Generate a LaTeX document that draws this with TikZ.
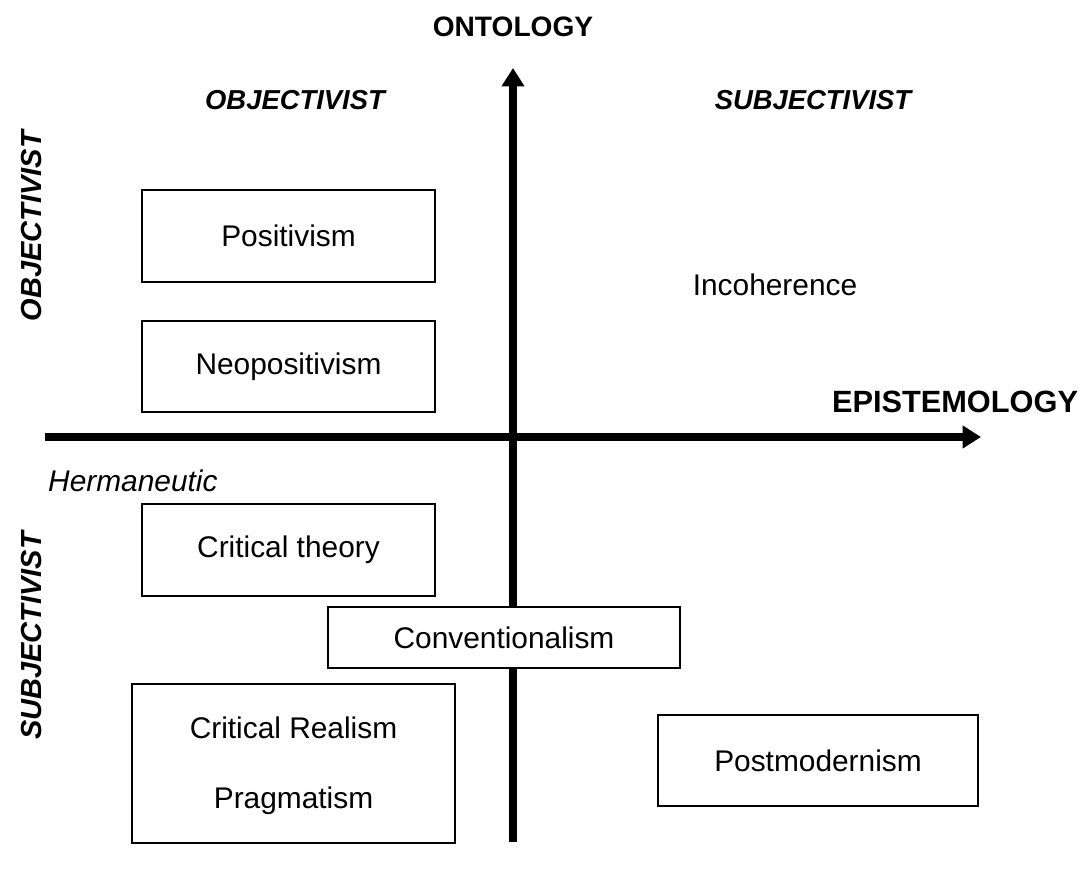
\documentclass[tikz,border=0pt]{standalone}
\usepackage{fontspec}
\setmainfont{Liberation Sans}
\usetikzlibrary{arrows.meta}
\begin{document}
\begin{tikzpicture}[x=0.02cm,y=-0.02cm,
  box/.style={draw,line width=1.1pt,fill=white,inner sep=0pt,font=\fontsize{17}{20}\selectfont},
  lbl/.style={font=\fontsize{17}{20}\selectfont},
  head/.style={font=\fontsize{16}{19}\selectfont\bfseries},
  quad/.style={font=\fontsize{15.6}{19}\selectfont\bfseries\itshape},
  axis/.style={line width=4pt,-{Triangle[length=10.5pt,width=12.5pt]}}]
\useasboundingbox (0,0) rectangle (1085,869);
% axes
\coordinate (vbot) at (513,842);
\coordinate (vtop) at (513,68);
\coordinate (hleft) at (45,437);
\coordinate (hright) at (981,437);
\draw[axis] (vbot) -- (vtop);
\draw[axis] (hleft) -- (hright);
% axis titles
\node[head] (ont) at (513,27) {ONTOLOGY};
\node[head,font=\fontsize{17.5}{20}\selectfont\bfseries] (epi) at (955,402) {EPISTEMOLOGY};
\node[quad] (objtop) at (295,100) {OBJECTIVIST};
\node[quad] (subtop) at (813,100) {SUBJECTIVIST};
\node[quad,font=\fontsize{16.5}{19}\selectfont\bfseries\itshape,rotate=90] (objleft) at (32,226) {OBJECTIVIST};
\node[quad,font=\fontsize{16.5}{19}\selectfont\bfseries\itshape,rotate=90] (subleft) at (32,636) {SUBJECTIVIST};
\node[lbl,font=\fontsize{17}{20}\selectfont\itshape,anchor=west] (herm) at (42,481) {Hermaneutic};
% paradigm boxes
\node[box,minimum width=293*0.02cm,minimum height=92*0.02cm] (pos) at (288.5,236) {Positivism};
\node[box,minimum width=293*0.02cm,minimum height=91*0.02cm] (neo) at (288.5,366.5) {Neopositivism};
\node[lbl] (inc) at (775,285) {Incoherence};
\node[box,minimum width=293*0.02cm,minimum height=92*0.02cm] (crit) at (288.5,550) {Critical theory};
\node[box,minimum width=352*0.02cm,minimum height=61*0.02cm] (conv) at (504,637.5) {Conventionalism};
\node[box,minimum width=323*0.02cm,minimum height=159*0.02cm] (real) at (293.5,763.5) {};
\node[lbl] (crr) at (293.5,728) {Critical Realism};
\node[lbl] (prag) at (293.5,801) {Pragmatism};
\node[box,minimum width=320*0.02cm,minimum height=91*0.02cm] (post) at (818,760.5) {Postmodernism};
\end{tikzpicture}
\end{document}
